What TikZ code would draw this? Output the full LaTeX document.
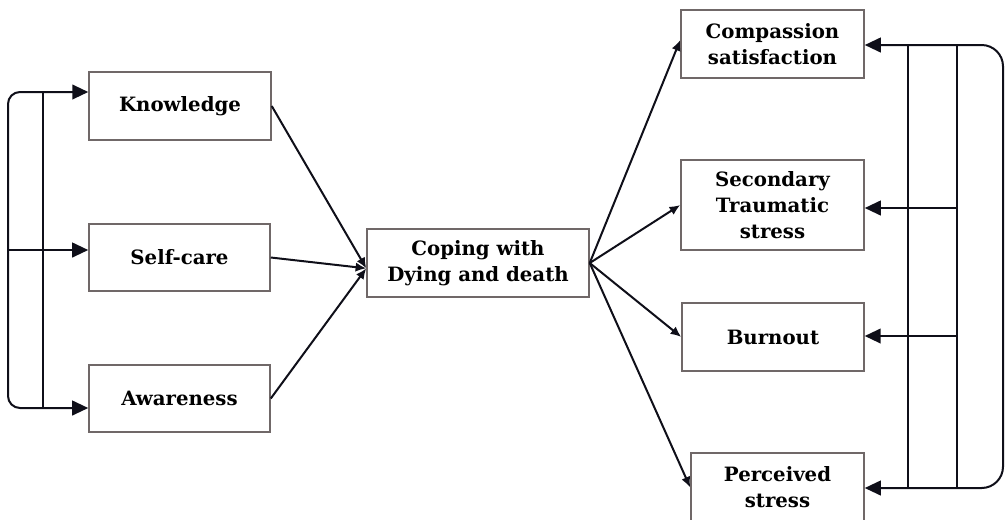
\documentclass[tikz,border=0pt]{standalone}
\usepackage{fontspec}
\setmainfont{DejaVu Serif}
\usetikzlibrary{arrows.meta}
\definecolor{boxline}{RGB}{112,104,104}
\definecolor{ink}{RGB}{15,15,25}
\begin{document}
\begin{tikzpicture}[x=0.75pt,y=-0.75pt,
  box/.style={draw=boxline,line width=1.1pt,fill=white,align=center,
    font=\bfseries\fontsize{14.8}{19.5}\selectfont,inner sep=0pt},
  arr/.style={draw=ink,line width=1.5pt,-{Latex[length=8pt,width=7pt]}},
  wire/.style={draw=ink,line width=1.5pt},
  bigtip/.style={-{Triangle[length=12pt,width=11pt]}},
  bigtips/.style={{Triangle[length=12pt,width=11pt]}-{Triangle[length=12pt,width=11pt]}}]
\useasboundingbox (0,0) rectangle (1007,519);

% boxes
\node[box,minimum width=136.5pt,minimum height=51pt] (know)  at (180,106)   {Knowledge};
\node[box,minimum width=135.8pt,minimum height=50pt] (self)  at (179.5,257.5) {Self-care};
\node[box,minimum width=135.8pt,minimum height=50pt] (aware) at (179.5,398.5) {Awareness};
\node[box,minimum width=166.5pt,minimum height=51pt] (cope)  at (478,263)   {Coping with\\Dying and death};
\node[box,minimum width=137.3pt,minimum height=51pt] (comp)  at (772.5,44)  {Compassion\\satisfaction};
\node[box,minimum width=137.3pt,minimum height=67.5pt] (sec) at (772.5,205) {Secondary\\Traumatic\\stress};
\node[box,minimum width=136.5pt,minimum height=51pt] (burn)  at (773,337)   {Burnout};
\node[box,minimum width=129.8pt,minimum height=52pt] (perc)  at (777.5,487.5) {Perceived\\stress};

% inputs into the central box
\draw[arr] (know.east) -- ([yshift=-4pt]cope.west);
\draw[arr] (self.east) -- ([yshift=-4pt]cope.west);
\draw[arr] (aware.east) -- ([yshift=-4pt]cope.west);

% outputs from the central box
\draw[arr] (cope.east) -- ([yshift=3pt]comp.west);
\draw[arr] (cope.east) -- (sec.west);
\draw[arr] (cope.east) -- (burn.west);
\draw[arr] (cope.east) -- (perc.west);

% left bracket
\coordinate (lA) at (8,92);
\coordinate (lB) at (8,250);
\coordinate (lC) at (8,408);
\coordinate (lI1) at (43,92);
\coordinate (lI2) at (43,408);
\draw[wire,bigtips,rounded corners=9] (lA -| know.west) -- (lA) -- (lC) -- (lC -| aware.west);
\draw[wire,bigtip] (lB) -- (lB -| self.west);
\draw[wire] (lI1) -- (lI2);

% right bracket
\coordinate (rA) at (1003,45);
\coordinate (rD) at (1003,488);
\coordinate (rB) at (957,208);
\coordinate (rC) at (957,336);
\coordinate (rM1) at (957,45);
\coordinate (rM2) at (957,488);
\coordinate (rI1) at (908,45);
\coordinate (rI2) at (908,488);
\draw[wire,bigtips,rounded corners=16] (rA -| comp.east) -- (rA) -- (rD) -- (rD -| perc.east);
\draw[wire] (rM1) -- (rM2);
\draw[wire] (rI1) -- (rI2);
\draw[wire,bigtip] (rB) -- (rB -| sec.east);
\draw[wire,bigtip] (rC) -- (rC -| burn.east);
\end{tikzpicture}
\end{document}
